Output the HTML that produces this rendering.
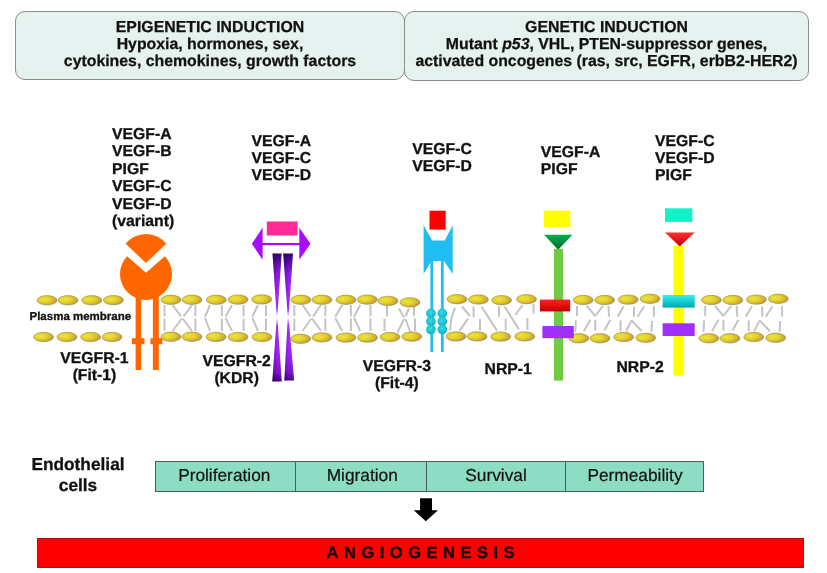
<!DOCTYPE html>
<html><head><meta charset="utf-8">
<style>
html,body{margin:0;padding:0;background:#fff;}
body{width:827px;height:573px;position:relative;overflow:hidden;font-family:"Liberation Sans",sans-serif;color:#111;text-rendering:geometricPrecision;filter:blur(0.3px);}
.box{position:absolute;box-sizing:border-box;border:1.5px solid #8c8c8c;border-radius:10px;background:#e6f2ef;text-align:center;font-weight:bold;font-size:15.85px;line-height:17.2px;-webkit-text-stroke:0.25px #111;}
.t{position:absolute;font-weight:bold;font-size:15.75px;line-height:17.3px;white-space:nowrap;-webkit-text-stroke:0.3px #111;}
.c{text-align:center;}
.cell{position:absolute;top:0;height:29px;box-sizing:border-box;border-right:1px solid #46605a;text-align:center;line-height:26px;}
svg{position:absolute;left:0;top:0;}
</style></head><body>
<div class="box" style="left:15px;top:11px;width:390px;height:69px;padding-top:7px;">EPIGENETIC INDUCTION<br>Hypoxia, hormones, sex,<br>cytokines, chemokines, growth factors</div>
<div class="box" style="left:404px;top:11px;width:405px;height:70px;padding-top:7px;">GENETIC INDUCTION<br>Mutant <i>p53</i>, VHL, PTEN-suppressor genes,<br>activated oncogenes (ras, src, EGFR, erbB2-HER2)</div>

<svg width="827" height="573" viewBox="0 0 827 573">
<defs>
<radialGradient id="lip" cx="40%" cy="42%" r="65%" fx="32%" fy="40%">
<stop offset="0" stop-color="#ece634"/><stop offset="0.45" stop-color="#e4d22e"/><stop offset="0.78" stop-color="#d0ae32"/><stop offset="1" stop-color="#a48a40"/>
</radialGradient>
<linearGradient id="hg" x1="0" y1="253.5" x2="0" y2="381.5" gradientUnits="userSpaceOnUse">
<stop offset="0" stop-color="#380060"/><stop offset="0.05" stop-color="#5008a0"/><stop offset="0.16" stop-color="#8c18e8"/><stop offset="0.3" stop-color="#a424ff"/><stop offset="0.44" stop-color="#a830ff"/><stop offset="0.485" stop-color="#e8c8ff"/><stop offset="0.5" stop-color="#ffffff"/><stop offset="0.515" stop-color="#e8c8ff"/><stop offset="0.56" stop-color="#a830ff"/><stop offset="0.8" stop-color="#a020f8"/><stop offset="0.93" stop-color="#7812d0"/><stop offset="1" stop-color="#440078"/>
</linearGradient>
<linearGradient id="hsh" x1="0" y1="0" x2="1" y2="0">
<stop offset="0" stop-color="#000" stop-opacity="0.28"/><stop offset="0.55" stop-color="#000" stop-opacity="0"/><stop offset="1" stop-color="#fff" stop-opacity="0.08"/>
</linearGradient>
<linearGradient id="gtri" x1="0" y1="0" x2="0" y2="1">
<stop offset="0" stop-color="#00b050"/><stop offset="1" stop-color="#006a28"/>
</linearGradient>
<linearGradient id="rtri" x1="0" y1="0" x2="0" y2="1">
<stop offset="0" stop-color="#ff3030"/><stop offset="1" stop-color="#c00000"/>
</linearGradient>
<linearGradient id="redr" x1="0" y1="0" x2="0" y2="1">
<stop offset="0" stop-color="#ff2020"/><stop offset="1" stop-color="#c00000"/>
</linearGradient>
<linearGradient id="cyr" x1="0" y1="0" x2="0" y2="1">
<stop offset="0" stop-color="#30f0f0"/><stop offset="1" stop-color="#00a8b0"/>
</linearGradient>
<radialGradient id="bead" cx="45%" cy="40%" r="60%">
<stop offset="0" stop-color="#30e0e8"/><stop offset="1" stop-color="#10b0c0"/>
</radialGradient>
</defs>
<g id="tails" stroke="#c4c4c4" stroke-width="2" fill="none"><line x1="164.5" y1="305.0" x2="164.5" y2="316.3"/><line x1="164.5" y1="318.5" x2="164.5" y2="331.0"/><line x1="172.5" y1="305.0" x2="181.0" y2="316.3"/><line x1="182.6" y1="318.5" x2="192.0" y2="331.0"/><line x1="192.0" y1="305.0" x2="183.5" y2="316.3"/><line x1="181.9" y1="318.5" x2="172.5" y2="331.0"/><line x1="195.4" y1="305.0" x2="195.4" y2="316.3"/><line x1="195.4" y1="318.5" x2="195.4" y2="331.0"/><line x1="210.0" y1="305.0" x2="205.0" y2="316.8"/><line x1="205.0" y1="318.0" x2="210.0" y2="331.0"/><line x1="221.9" y1="305.0" x2="221.9" y2="316.3"/><line x1="221.9" y1="318.5" x2="221.9" y2="331.0"/><line x1="232.0" y1="305.0" x2="225.5" y2="316.8"/><line x1="225.5" y1="318.0" x2="232.0" y2="331.0"/><line x1="243.6" y1="305.0" x2="243.6" y2="316.3"/><line x1="243.6" y1="318.5" x2="243.6" y2="331.0"/><line x1="258.0" y1="305.0" x2="252.3" y2="316.8"/><line x1="252.3" y1="318.0" x2="258.0" y2="331.0"/><line x1="266.0" y1="305.0" x2="266.0" y2="316.3"/><line x1="266.0" y1="318.5" x2="266.0" y2="331.0"/><line x1="294.3" y1="305.0" x2="294.3" y2="316.3"/><line x1="294.3" y1="318.5" x2="294.3" y2="331.0"/><line x1="302.5" y1="305.0" x2="310.5" y2="316.3"/><line x1="312.1" y1="318.5" x2="321.0" y2="331.0"/><line x1="321.0" y1="305.0" x2="313.0" y2="316.3"/><line x1="311.4" y1="318.5" x2="302.5" y2="331.0"/><line x1="325.4" y1="305.0" x2="325.4" y2="316.3"/><line x1="325.4" y1="318.5" x2="325.4" y2="331.0"/><line x1="342.2" y1="305.0" x2="335.2" y2="316.8"/><line x1="335.2" y1="318.0" x2="342.2" y2="331.0"/><line x1="350.9" y1="305.0" x2="350.9" y2="316.3"/><line x1="350.9" y1="318.5" x2="350.9" y2="331.0"/><line x1="360.3" y1="305.0" x2="354.0" y2="316.8"/><line x1="354.0" y1="318.0" x2="360.3" y2="331.0"/><line x1="370.5" y1="305.0" x2="370.5" y2="316.3"/><line x1="370.5" y1="318.5" x2="370.5" y2="331.0"/><line x1="387.0" y1="305.0" x2="387.0" y2="316.3"/><line x1="384.5" y1="318.5" x2="384.5" y2="331.0"/><line x1="399.0" y1="308.5" x2="404.0" y2="317.5"/><line x1="404.0" y1="319.0" x2="397.5" y2="332.5"/><line x1="405.5" y1="319.0" x2="410.5" y2="332.5"/><line x1="409.0" y1="308.5" x2="405.5" y2="316.5"/><line x1="414.0" y1="305.0" x2="414.0" y2="316.3"/><line x1="415.0" y1="318.5" x2="415.0" y2="331.0"/><line x1="454.9" y1="307.7" x2="451.5" y2="318.0"/><line x1="451.5" y1="318.0" x2="450.0" y2="330.6"/><line x1="462.0" y1="306.5" x2="470.0" y2="316.0"/><line x1="459.7" y1="330.6" x2="468.0" y2="318.6"/><line x1="473.6" y1="306.5" x2="473.6" y2="317.3"/><line x1="480.0" y1="319.0" x2="480.0" y2="330.6"/><line x1="481.5" y1="306.5" x2="497.0" y2="330.6"/><line x1="499.0" y1="306.5" x2="499.0" y2="316.7"/><line x1="504.5" y1="306.5" x2="519.0" y2="329.4"/><line x1="505.7" y1="318.6" x2="505.7" y2="330.6"/><line x1="522.6" y1="305.0" x2="515.3" y2="315.0"/><line x1="533.5" y1="304.0" x2="533.5" y2="313.7"/><line x1="527.4" y1="318.0" x2="527.4" y2="330.0"/><line x1="577.0" y1="305.9" x2="577.0" y2="316.1"/><line x1="586.7" y1="305.9" x2="595.2" y2="316.0"/><line x1="595.2" y1="316.0" x2="603.0" y2="305.9"/><line x1="608.5" y1="305.9" x2="609.0" y2="316.7"/><line x1="623.6" y1="306.5" x2="617.6" y2="316.7"/><line x1="634.0" y1="306.5" x2="634.0" y2="316.7"/><line x1="644.2" y1="306.5" x2="637.5" y2="316.7"/><line x1="653.9" y1="305.9" x2="653.9" y2="316.7"/><line x1="575.9" y1="320.4" x2="575.3" y2="331.9"/><line x1="590.4" y1="319.8" x2="583.7" y2="331.2"/><line x1="595.2" y1="319.8" x2="595.2" y2="330.6"/><line x1="610.3" y1="319.8" x2="604.3" y2="330.6"/><line x1="620.6" y1="320.4" x2="620.6" y2="331.2"/><line x1="626.0" y1="331.2" x2="631.5" y2="320.4"/><line x1="631.5" y1="320.4" x2="641.8" y2="331.2"/><line x1="652.0" y1="321.0" x2="651.4" y2="331.9"/><line x1="705.2" y1="305.9" x2="705.2" y2="316.1"/><line x1="714.9" y1="305.9" x2="723.4" y2="316.0"/><line x1="723.4" y1="316.0" x2="731.2" y2="305.9"/><line x1="736.7" y1="305.9" x2="737.2" y2="316.7"/><line x1="751.8" y1="306.5" x2="745.8" y2="316.7"/><line x1="762.2" y1="306.5" x2="762.2" y2="316.7"/><line x1="772.4" y1="306.5" x2="765.7" y2="316.7"/><line x1="782.1" y1="305.9" x2="782.1" y2="316.7"/><line x1="704.1" y1="320.4" x2="703.5" y2="331.9"/><line x1="718.6" y1="319.8" x2="711.9" y2="331.2"/><line x1="723.4" y1="319.8" x2="723.4" y2="330.6"/><line x1="738.5" y1="319.8" x2="732.5" y2="330.6"/><line x1="748.8" y1="320.4" x2="748.8" y2="331.2"/><line x1="754.2" y1="331.2" x2="759.7" y2="320.4"/><line x1="759.7" y1="320.4" x2="770.0" y2="331.2"/><line x1="780.2" y1="321.0" x2="779.6" y2="331.9"/></g>
<g id="lipids" fill="url(#lip)" stroke="#9a8a50" stroke-width="0.6"><ellipse cx="47.0" cy="300.3" rx="10" ry="4.7"/><ellipse cx="68.0" cy="300.3" rx="10" ry="4.7"/><ellipse cx="91.8" cy="300.3" rx="10" ry="4.7"/><ellipse cx="113.4" cy="300.1" rx="10" ry="4.7"/><ellipse cx="43.6" cy="337.0" rx="10" ry="4.7"/><ellipse cx="67.0" cy="337.0" rx="10" ry="4.7"/><ellipse cx="90.6" cy="337.0" rx="10" ry="4.7"/><ellipse cx="112.0" cy="337.0" rx="10" ry="4.7"/><ellipse cx="171.0" cy="299.8" rx="10" ry="4.7"/><ellipse cx="192.0" cy="299.8" rx="10" ry="4.7"/><ellipse cx="216.3" cy="299.8" rx="10" ry="4.7"/><ellipse cx="238.0" cy="299.6" rx="10" ry="4.7"/><ellipse cx="261.7" cy="299.4" rx="10" ry="4.7"/><ellipse cx="171.0" cy="336.7" rx="10" ry="4.7"/><ellipse cx="192.0" cy="336.7" rx="10" ry="4.7"/><ellipse cx="216.0" cy="336.9" rx="10" ry="4.7"/><ellipse cx="238.0" cy="337.0" rx="10" ry="4.7"/><ellipse cx="262.0" cy="337.0" rx="10" ry="4.7"/><ellipse cx="301.0" cy="299.8" rx="10" ry="4.7"/><ellipse cx="322.0" cy="299.8" rx="10" ry="4.7"/><ellipse cx="346.0" cy="299.8" rx="10" ry="4.7"/><ellipse cx="367.3" cy="299.6" rx="10" ry="4.7"/><ellipse cx="388.0" cy="300.9" rx="10" ry="4.7"/><ellipse cx="410.0" cy="302.4" rx="10" ry="4.7"/><ellipse cx="300.7" cy="338.8" rx="10" ry="4.7"/><ellipse cx="322.0" cy="337.4" rx="10" ry="4.7"/><ellipse cx="346.0" cy="337.6" rx="10" ry="4.7"/><ellipse cx="367.5" cy="337.6" rx="10" ry="4.7"/><ellipse cx="390.0" cy="337.0" rx="10" ry="4.7"/><ellipse cx="411.8" cy="336.6" rx="10" ry="4.7"/><ellipse cx="457.0" cy="299.2" rx="10" ry="4.7"/><ellipse cx="478.4" cy="299.5" rx="10" ry="4.7"/><ellipse cx="501.6" cy="300.2" rx="10" ry="4.7"/><ellipse cx="526.5" cy="299.2" rx="10" ry="4.7"/><ellipse cx="456.0" cy="336.4" rx="10" ry="4.7"/><ellipse cx="477.0" cy="336.4" rx="10" ry="4.7"/><ellipse cx="500.7" cy="336.6" rx="10" ry="4.7"/><ellipse cx="524.7" cy="336.4" rx="10" ry="4.7"/><ellipse cx="583.2" cy="300.0" rx="10" ry="4.7"/><ellipse cx="604.7" cy="300.0" rx="10" ry="4.7"/><ellipse cx="628.2" cy="299.6" rx="10" ry="4.7"/><ellipse cx="650.1" cy="298.8" rx="10" ry="4.7"/><ellipse cx="578.9" cy="338.3" rx="10" ry="4.7"/><ellipse cx="600.0" cy="338.3" rx="10" ry="4.7"/><ellipse cx="623.7" cy="337.0" rx="10" ry="4.7"/><ellipse cx="645.7" cy="337.8" rx="10" ry="4.7"/><ellipse cx="711.4" cy="300.0" rx="10" ry="4.7"/><ellipse cx="732.9" cy="300.0" rx="10" ry="4.7"/><ellipse cx="756.4" cy="299.6" rx="10" ry="4.7"/><ellipse cx="778.3" cy="298.8" rx="10" ry="4.7"/><ellipse cx="708.9" cy="338.3" rx="10" ry="4.7"/><ellipse cx="730.0" cy="338.3" rx="10" ry="4.7"/><ellipse cx="753.7" cy="337.0" rx="10" ry="4.7"/><ellipse cx="775.7" cy="337.8" rx="10" ry="4.7"/></g>

<!-- VEGFR-1 orange -->
<g fill="#ff6600">
<path d="M146 263 L166.3 243.7 A26 26 0 0 0 125.7 243.7 Z"/>
<path d="M146 272.8 L164.9 256.2 A26 26 0 1 1 127.1 256.2 Z"/>
<rect x="135.6" y="292" width="5.6" height="78"/>
<rect x="152.9" y="292" width="5.9" height="78"/>
<rect x="131.9" y="338.2" width="12.6" height="6"/>
<rect x="150.4" y="338.2" width="11.9" height="6"/>
</g>

<!-- VEGFR-2 -->
<rect x="266.8" y="221.5" width="30.8" height="14" fill="#ff2a96"/>
<g fill="#a60cff">
<polygon points="251.8,243.8 262.6,227.8 262.6,259.8"/>
<polygon points="310.5,243.8 299.3,227.8 299.3,259.8"/>
<rect x="262" y="243" width="38" height="2.2"/>
</g>
<g fill="url(#hg)">
<polygon points="272.5,253.5 281.7,253.5 277.3,317 281.8,381.6 272.3,381.6 276.8,317"/>
<polygon points="283.2,253.5 293,253.5 288.5,317 294.2,380.5 284.3,380.5 287.8,317"/>
</g>
<g fill="url(#hsh)">
<polygon points="272.5,253.5 281.7,253.5 277.3,317 281.8,381.6 272.3,381.6 276.8,317"/>
<polygon points="283.2,253.5 293,253.5 288.5,317 294.2,380.5 284.3,380.5 287.8,317"/>
</g>

<!-- VEGFR-3 -->
<rect x="429.5" y="210.7" width="16.2" height="18.9" fill="#ff0000"/>
<polygon points="423.6,225.2 432.2,240.5 444.7,240.5 452.7,225.2 452.7,274 444,261 431.5,261 423.6,274" fill="#1fbdf2"/>
<rect x="430.4" y="260" width="2.7" height="92" fill="#1fbdf2"/>
<rect x="440.9" y="260" width="2.8" height="92" fill="#1fbdf2"/>
<g fill="url(#bead)">
<circle cx="430.9" cy="313.4" r="4.8"/><circle cx="430.9" cy="321.4" r="4.8"/><circle cx="430.9" cy="329.5" r="4.8"/>
<circle cx="442.3" cy="313.4" r="4.8"/><circle cx="442.3" cy="321.4" r="4.8"/><circle cx="442.3" cy="329.5" r="4.8"/>
</g>

<!-- NRP-1 -->
<rect x="544" y="210.6" width="26.4" height="16.4" fill="#ffff00"/>
<polygon points="544,234.8 572.4,234.8 558.2,249.7" fill="url(#gtri)"/>
<rect x="553.9" y="249" width="9.2" height="131.6" fill="#70cb42"/>
<rect x="540" y="299.6" width="30.2" height="11.8" fill="url(#redr)"/>
<rect x="542.4" y="326" width="31.4" height="12.2" fill="#a030f8"/>

<!-- NRP-2 -->
<rect x="665" y="208.3" width="27.4" height="13.6" fill="#14f0c8"/>
<polygon points="665,232.5 694.7,232.5 679.8,246.4" fill="url(#rtri)"/>
<rect x="673.4" y="246" width="10.7" height="129.6" fill="#ffff00"/>
<rect x="662.6" y="295" width="32.1" height="12.6" fill="url(#cyr)"/>
<rect x="662.6" y="323.3" width="32.1" height="12.7" fill="#a030f8"/>
</svg>

<!-- labels -->
<div class="t" style="left:112px;top:125.9px;line-height:17.4px;">VEGF-A<br>VEGF-B<br>PIGF<br>VEGF-C<br>VEGF-D<br>(variant)</div>
<div class="t" style="left:251.5px;top:132.9px;">VEGF-A<br>VEGF-C<br>VEGF-D</div>
<div class="t" style="left:412.3px;top:141px;">VEGF-C<br>VEGF-D</div>
<div class="t" style="left:540.8px;top:143.6px;">VEGF-A<br>PIGF</div>
<div class="t" style="left:655.1px;top:132.7px;">VEGF-C<br>VEGF-D<br>PIGF</div>

<div class="t" style="left:29.5px;top:311.1px;font-size:11.5px;line-height:13px;">Plasma membrane</div>
<div class="t c" style="left:44.5px;top:349.5px;width:100px;line-height:17px;">VEGFR-1<br>(Fit-1)</div>
<div class="t c" style="left:186.7px;top:352.7px;width:100px;line-height:17px;">VEGFR-2<br>(KDR)</div>
<div class="t c" style="left:346.8px;top:358px;width:100px;line-height:17px;">VEGFR-3<br>(Fit-4)</div>
<div class="t" style="left:484.6px;top:360.5px;">NRP-1</div>
<div class="t" style="left:616.5px;top:359px;">NRP-2</div>

<div class="t c" style="left:28px;top:454px;width:100px;font-size:17.3px;line-height:20.8px;">Endothelial<br>cells</div>
<div style="position:absolute;left:155px;top:460.5px;width:549px;height:31px;box-sizing:border-box;border:1px solid #46605a;background:#8cddc4;font-size:17.3px;color:#111;-webkit-text-stroke:0.2px #111;">
<div class="cell" style="left:0;width:139.5px;padding-right:2px;">Proliferation</div>
<div class="cell" style="left:139.5px;width:131.5px;padding-left:3px;">Migration</div>
<div class="cell" style="left:271px;width:139px;">Survival</div>
<div class="cell" style="left:410px;width:138px;border:none;">Permeability</div>
</div>
<svg style="left:412px;top:497px" width="30" height="27" viewBox="0 0 30 27"><polygon points="8.1,1.3 20,1.3 20,13.2 26,13.2 13.8,24.3 1.8,13.2 8.1,13.2" fill="#000"/></svg>
<div style="position:absolute;left:37px;top:538px;width:767.2px;height:29.7px;box-sizing:border-box;background:#ff0000;border:1px solid #b01010;text-align:center;font-weight:bold;font-size:16.5px;letter-spacing:5.5px;padding-left:5.5px;line-height:28px;color:#140000;-webkit-text-stroke:0.3px #140000;">ANGIOGENESIS</div>
</body></html>
